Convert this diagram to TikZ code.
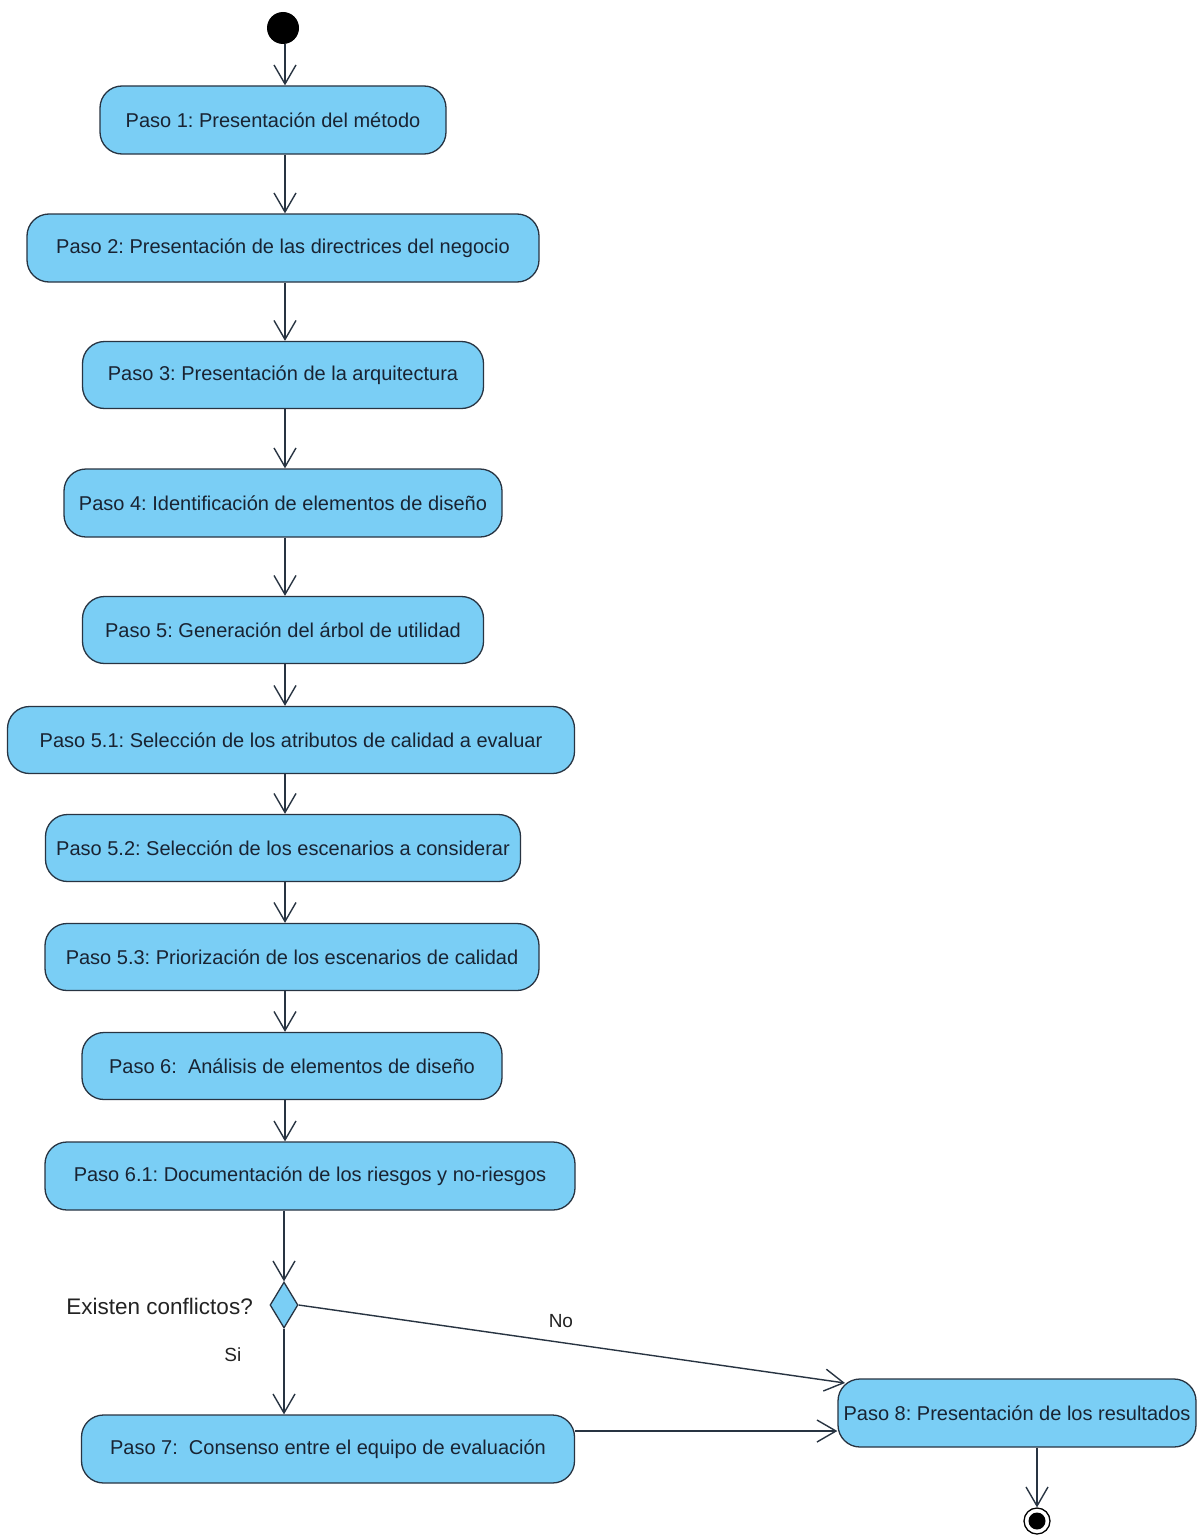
\documentclass[tikz,border=0pt]{standalone}
\usepackage{fontspec}
\setmainfont{Liberation Sans}
\usetikzlibrary{arrows.meta,shapes.geometric}
\definecolor{boxfill}{RGB}{122,206,245}
\definecolor{boxline}{RGB}{40,52,66}
\definecolor{txt}{RGB}{25,35,50}
\definecolor{lbltxt}{RGB}{35,35,35}
\tikzset{
  stepbox/.style={draw=boxline, line width=1.3pt, fill=boxfill, rounded corners=22pt, text=txt, font=\fontsize{20}{22}\selectfont, inner sep=0pt},
  arr/.style={draw=boxline, line width=1.4pt, -{Straight Barb[length=19pt,width=22pt,line width=1.4pt]}},
  lbl/.style={text=lbltxt, font=\fontsize{19}{21}\selectfont, inner sep=0pt}
}
\newcommand{\bx}[6]{\node[stepbox, minimum width=#4pt, minimum height=#5pt] (#1) at (#2,#3) {#6};}
\begin{document}
\frenchspacing
\begin{tikzpicture}[x=1pt,y=-1pt]
\useasboundingbox[fill=white] (0,0) rectangle (1197,1536);
\node[circle, fill=black, minimum size=32pt, inner sep=0pt] (start) at (283,28) {};
\coordinate (spine) at (285,0);
\bx{p1}{273}{120}{346}{68}{Paso 1: Presentación del método}
\bx{p2}{283}{248}{512}{68}{Paso 2: Presentación de las directrices del negocio}
\bx{p3}{283}{375}{401}{67}{Paso 3: Presentación de la arquitectura}
\bx{p4}{283}{503}{438}{68}{Paso 4: Identificación de elementos de diseño}
\bx{p5}{283}{630}{401}{67}{Paso 5: Generación del árbol de utilidad}
\bx{p51}{291}{740}{567}{67}{Paso 5.1: Selección de los atributos de calidad a evaluar}
\bx{p52}{283}{848}{475}{67}{Paso 5.2: Selección de los escenarios a considerar}
\bx{p53}{292}{957}{494}{67}{Paso 5.3: Priorización de los escenarios de calidad}
\bx{p6}{292}{1066}{420}{67}{Paso 6:\ \ Análisis de elementos de diseño}
\bx{p61}{310}{1176}{530}{68}{Paso 6.1: Documentación de los riesgos y no-riesgos}
\node[diamond, draw=boxline, line width=1.3pt, fill=boxfill, minimum width=28pt, minimum height=46pt, inner sep=0pt] (dec) at (284,1305) {};
\bx{p7}{328}{1449}{493}{68}{Paso 7:\ \ Consenso entre el equipo de evaluación}
\bx{p8}{1017}{1413}{358}{68}{Paso 8: Presentación de los resultados}
\node[circle, draw=black, line width=1.3pt, fill=white, minimum size=26pt, inner sep=0pt] (end) at (1037,1521) {};
\node[circle, fill=black, minimum size=17pt, inner sep=0pt] at (end) {};
\node[lbl, anchor=east, font=\fontsize{22.5}{24}\selectfont] (qlbl) at (253,1306) {Existen conflictos?};
\draw[arr] (start.south -| spine) -- (p1.north -| spine);
\draw[arr] (p1.south -| spine) -- (p2.north -| spine);
\draw[arr] (p2.south -| spine) -- (p3.north -| spine);
\draw[arr] (p3.south -| spine) -- (p4.north -| spine);
\draw[arr] (p4.south -| spine) -- (p5.north -| spine);
\draw[arr] (p5.south -| spine) -- (p51.north -| spine);
\draw[arr] (p51.south -| spine) -- (p52.north -| spine);
\draw[arr] (p52.south -| spine) -- (p53.north -| spine);
\draw[arr] (p53.south -| spine) -- (p6.north -| spine);
\draw[arr] (p6.south -| spine) -- (p61.north -| spine);
\draw[arr] (p61.south -| dec) -- (dec.north);
\draw[arr] (dec.south) -- node[lbl, pos=0.3, left=42pt] {Si} (p7.north -| dec);
\coordinate (p8in) at (845,1383);
\draw[arr] (dec.east) -- node[lbl, pos=0.48, above=14pt] {No} (p8in);
\draw[arr] (p7.east |- 0,1431) -- (p8.west |- 0,1431);
\draw[arr] (p8.south -| end) -- (end.north);
\end{tikzpicture}
\end{document}
